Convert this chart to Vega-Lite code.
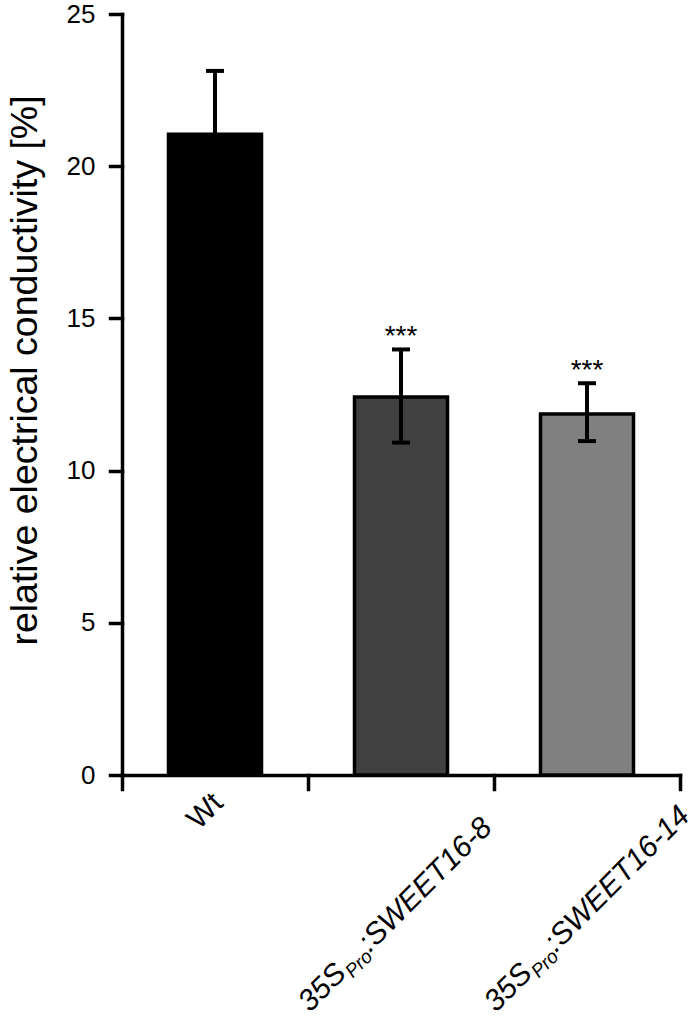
{
  "$schema": "https://vega.github.io/schema/vega-lite/v6.json",
  "width": 558,
  "height": 761,
  "autosize": {"type": "none"},
  "padding": {"left": 122, "top": 14, "right": 18, "bottom": 250},
  "background": "white",
  "config": {
    "view": {"stroke": null},
    "font": "Liberation Sans",
    "axis": {
      "domainColor": "black", "domainWidth": 3.5, "domainCap": "square",
      "tickColor": "black", "tickWidth": 3.5, "tickCap": "square",
      "grid": false, "labelColor": "black", "titleColor": "black",
      "labelFont": "Liberation Sans", "titleFont": "Liberation Sans", "titleFontWeight": "normal"
    }
  },
  "data": {
    "values": [
      {"genotype": "Wt", "mean": 21.05, "lo": 18.97, "hi": 23.13, "sig": "", "prefix": "Wt", "sub": "", "gene": ""},
      {"genotype": "35SPro:SWEET16-8", "mean": 12.42, "lo": 10.92, "hi": 13.98, "sig": "***", "prefix": "35S", "sub": "Pro", "gene": ":SWEET16-8"},
      {"genotype": "35SPro:SWEET16-14", "mean": 11.86, "lo": 10.97, "hi": 12.87, "sig": "***", "prefix": "35S", "sub": "Pro", "gene": ":SWEET16-14"}
    ]
  },
  "encoding": {
    "x": {
      "field": "genotype", "type": "nominal", "sort": null,
      "scale": {"paddingInner": 0, "paddingOuter": 0},
      "axis": {"labels": false, "title": null, "tickBand": "extent", "tickSize": 14, "ticks": true}
    }
  },
  "layer": [
    {
      "mark": {"type": "bar", "stroke": "black", "strokeWidth": 3.5, "width": {"band": 0.5}},
      "encoding": {
        "y": {
          "field": "mean", "type": "quantitative",
          "scale": {"domain": [0, 25], "nice": false},
          "title": "relative electrical conductivity [%]",
          "axis": {
            "values": [0, 5, 10, 15, 20, 25], "tickSize": 12, "labelPadding": 15, "labelFontSize": 26,
            "titleFontSize": 37.5, "titleX": -85.5, "titleY": 356, "titleAngle": 270,
            "titleAlign": "center", "titleBaseline": "alphabetic"
          }
        },
        "fill": {
          "field": "genotype", "type": "nominal", "sort": null,
          "scale": {"range": ["#000000", "#404040", "#808080"]}, "legend": null
        }
      }
    },
    {
      "mark": {"type": "rule", "color": "black", "strokeWidth": 4},
      "encoding": {
        "y": {"field": "lo", "type": "quantitative", "title": "relative electrical conductivity [%]"},
        "y2": {"field": "hi"}
      }
    },
    {
      "mark": {"type": "tick", "color": "black", "opacity": 1, "size": 18, "thickness": 4, "orient": "horizontal"},
      "encoding": {"y": {"field": "hi", "type": "quantitative", "title": "relative electrical conductivity [%]"}}
    },
    {
      "mark": {"type": "tick", "color": "black", "opacity": 1, "size": 18, "thickness": 4, "orient": "horizontal"},
      "encoding": {"y": {"field": "lo", "type": "quantitative", "title": "relative electrical conductivity [%]"}}
    },
    {
      "mark": {"type": "text", "fontSize": 28, "align": "center", "baseline": "alphabetic", "dy": -4, "color": "black"},
      "encoding": {
        "y": {"field": "hi", "type": "quantitative", "title": "relative electrical conductivity [%]"},
        "text": {"field": "sig"}
      }
    },
    {
      "transform": [{"filter": "datum.genotype === 'Wt'"}],
      "mark": {"type": "text", "fontSize": 30, "angle": -45, "align": "left", "baseline": "alphabetic", "dx": -51, "dy": 28, "color": "black"},
      "encoding": {
        "y": {"datum": 0, "type": "quantitative", "title": "relative electrical conductivity [%]"},
        "text": {"field": "prefix"}
      }
    },
    {
      "transform": [{"filter": "datum.genotype !== 'Wt'"}],
      "mark": {"type": "text", "fontSize": 30, "fontStyle": "italic", "angle": -45, "align": "left", "baseline": "alphabetic", "dx": -232.6, "dy": 103.9, "color": "black"},
      "encoding": {
        "y": {"datum": 0, "type": "quantitative", "title": "relative electrical conductivity [%]"},
        "text": {"field": "prefix"}
      }
    },
    {
      "transform": [{"filter": "datum.genotype !== 'Wt'"}],
      "mark": {"type": "text", "fontSize": 19, "fontStyle": "italic", "angle": -45, "align": "left", "baseline": "alphabetic", "dx": -178.2, "dy": 110, "color": "black"},
      "encoding": {
        "y": {"datum": 0, "type": "quantitative", "title": "relative electrical conductivity [%]"},
        "text": {"field": "sub"}
      }
    },
    {
      "transform": [{"filter": "datum.genotype !== 'Wt'"}],
      "mark": {"type": "text", "fontSize": 30, "fontStyle": "italic", "angle": -45, "align": "left", "baseline": "alphabetic", "dx": -148.1, "dy": 103.9, "color": "black"},
      "encoding": {
        "y": {"datum": 0, "type": "quantitative", "title": "relative electrical conductivity [%]"},
        "text": {"field": "gene"}
      }
    }
  ]
}
